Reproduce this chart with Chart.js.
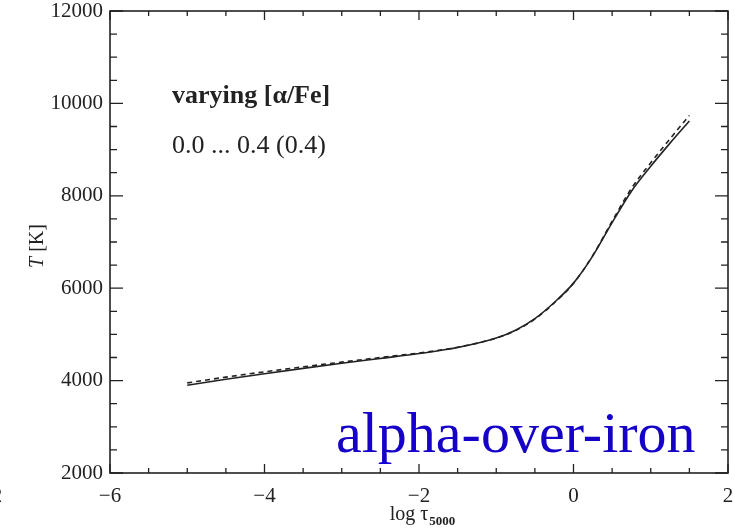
<!DOCTYPE html>
<html>
<head>
<meta charset="utf-8">
<script src="https://cdn.jsdelivr.net/npm/chart.js@4"></script>
<style>
  body { margin: 0; background: #fff; }
  #wrap { width: 735px; height: 530px; }
</style>
</head>
<body>
<div id="wrap"><canvas id="tempChart" width="735" height="530"></canvas></div>
<script>
// optical depth grid and the two temperature structures
const logTau = [-5, -4.5, -4, -3.5, -3, -2.5, -2, -1.5, -1, -0.75, -0.5, -0.25, 0, 0.25, 0.5, 0.75, 1, 1.25, 1.5];
const tempAlpha00 = [3900, 4030, 4150, 4265, 4375, 4480, 4585, 4715, 4920, 5090, 5340, 5690, 6110, 6700, 7420, 8100, 8640, 9140, 9620];
const tempAlpha04 = [3950, 4075, 4190, 4298, 4400, 4500, 4598, 4722, 4920, 5085, 5330, 5680, 6105, 6710, 7450, 8160, 8715, 9235, 9740];

const xRange = [-6, 2];
const yRange = [2000, 12000];
const xMajorStep = 2, xMinorStep = 0.5;
const yMajorStep = 2000, yMinorStep = 500;

const legendTitle = "varying [\u03b1/Fe]";
const legendRange = "0.0 ... 0.4 (0.4)";
const panelTag = "alpha-over-iron";

const ink = "#222";
const serif = "'Liberation Serif', 'Times New Roman', serif";

function toPoints(ys) {
    return logTau.map((x, i) => ({ x: x, y: ys[i] }));
}

// frame, inward ticks and all the loose text
const decorations = {
    id: "decorations",
    afterDraw(chart) {
        const { ctx, chartArea: a, scales } = chart;
        const x = scales.x, y = scales.y;
        ctx.save();
        ctx.strokeStyle = ink;
        ctx.lineWidth = 1.6;
        ctx.strokeRect(a.left, a.top, a.right - a.left, a.bottom - a.top);

        ctx.lineWidth = 1.3;
        ctx.beginPath();
        for (let v = xRange[0]; v <= xRange[1] + 1e-9; v += xMinorStep) {
            const px = x.getPixelForValue(v);
            const len = Math.abs(v % xMajorStep) < 1e-9 ? 9 : 5;
            ctx.moveTo(px, a.bottom); ctx.lineTo(px, a.bottom - len);
            ctx.moveTo(px, a.top); ctx.lineTo(px, a.top + len);
        }
        for (let v = yRange[0]; v <= yRange[1] + 1e-9; v += yMinorStep) {
            const py = y.getPixelForValue(v);
            const len = v % yMajorStep === 0 ? 13 : 7;
            ctx.moveTo(a.left, py); ctx.lineTo(a.left + len, py);
            ctx.moveTo(a.right, py); ctx.lineTo(a.right - len, py);
        }
        ctx.stroke();

        ctx.fillStyle = ink;
        ctx.textBaseline = "alphabetic";
        ctx.textAlign = "left";

        // legend text
        ctx.font = "bold 26px " + serif;
        ctx.fillText(legendTitle, 172, 103);
        ctx.font = "26px " + serif;
        ctx.fillText(legendRange, 172, 153);

        // x title: log tau_5000
        const cx = (a.left + a.right) / 2 + 3;
        ctx.font = "20px " + serif;
        const main = "log \u03c4";
        const wMain = ctx.measureText(main).width;
        ctx.font = "bold 13px " + serif;
        const wSub = ctx.measureText("5000").width;
        let sx = cx - (wMain + wSub) / 2;
        ctx.font = "20px " + serif;
        ctx.fillText(main, sx, 520);
        ctx.font = "bold 13px " + serif;
        ctx.fillText("5000", sx + wMain + 1, 525);

        // y title: T [K]
        ctx.save();
        ctx.translate(43, (a.top + a.bottom) / 2 + 4);
        ctx.rotate(-Math.PI / 2);
        ctx.font = "italic 20px " + serif;
        const wT = ctx.measureText("T").width;
        ctx.font = "20px " + serif;
        const wK = ctx.measureText(" [K]").width;
        let tx = -(wT + wK) / 2;
        ctx.font = "italic 20px " + serif;
        ctx.fillText("T", tx, 0);
        ctx.font = "20px " + serif;
        ctx.fillText(" [K]", tx + wT, 0);
        ctx.restore();

        // cut-off tick label of the neighbouring panel
        ctx.font = "21px " + serif;
        ctx.textAlign = "center";
        ctx.fillText("2", -3, 502);

        // panel tag
        ctx.textAlign = "left";
        ctx.fillStyle = "#1400c8";
        ctx.font = "58px " + serif;
        ctx.fillText(panelTag, 336, 452);
        ctx.restore();
    }
};

const ctx = document.getElementById("tempChart").getContext("2d");
const chart = new Chart(ctx, {
    type: "line",
    data: {
        datasets: [
            {
                label: "[\u03b1/Fe] = 0.0",
                data: toPoints(tempAlpha00),
                borderColor: ink,
                borderWidth: 1.6,
                pointRadius: 0,
                cubicInterpolationMode: "monotone",
                fill: false
            },
            {
                label: "[\u03b1/Fe] = 0.4",
                data: toPoints(tempAlpha04),
                borderColor: ink,
                borderWidth: 1.6,
                borderDash: [5, 4],
                pointRadius: 0,
                cubicInterpolationMode: "monotone",
                fill: false
            }
        ]
    },
    options: {
        responsive: false,
        animation: false,
        layout: { padding: { top: 11, right: 7, left: 0, bottom: 0 } },
        plugins: {
            legend: { display: false },
            tooltip: { enabled: false }
        },
        scales: {
            x: {
                type: "linear",
                min: xRange[0],
                max: xRange[1],
                grid: { display: false, drawTicks: false },
                border: { display: false },
                ticks: {
                    stepSize: xMajorStep,
                    padding: 11,
                    color: ink,
                    font: { family: serif, size: 21 },
                    maxRotation: 0,
                    callback: v => String(v).replace("-", "\u2212")
                },
                afterFit: s => {
                    s.height = 57;
                    s.paddingLeft = 0;
                    s.paddingRight = 0;
                }
            },
            y: {
                type: "linear",
                min: yRange[0],
                max: yRange[1],
                grid: { display: false, drawTicks: false },
                border: { display: false },
                ticks: {
                    stepSize: yMajorStep,
                    padding: 7,
                    color: ink,
                    font: { family: serif, size: 21 },
                    callback: v => String(v)
                },
                afterFit: s => {
                    s.width = 110;
                    s.paddingTop = 0;
                    s.paddingBottom = 0;
                }
            }
        }
    },
    plugins: [decorations]
});
</script>
</body>
</html>
